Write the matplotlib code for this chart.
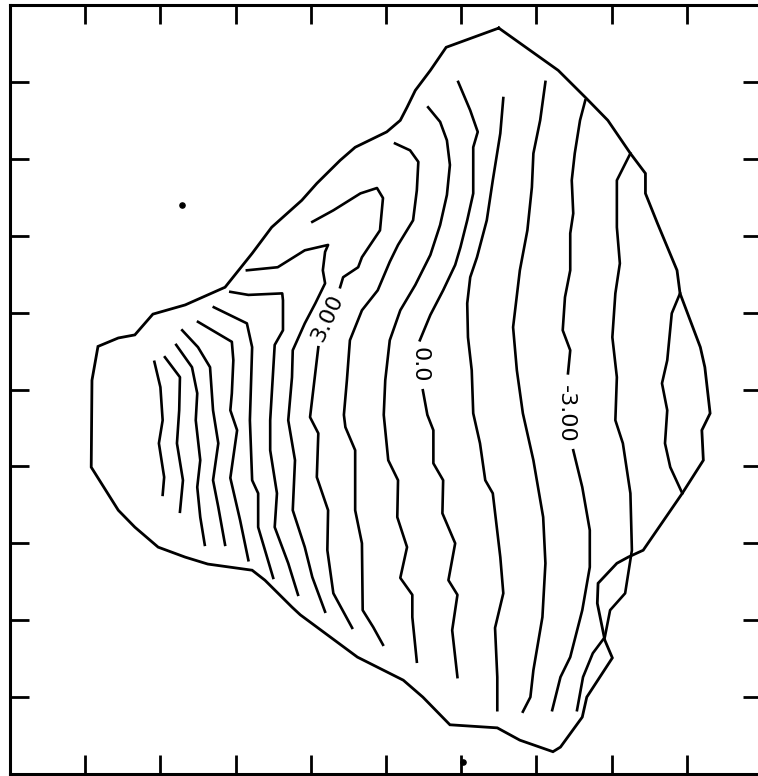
import numpy as np
import matplotlib
matplotlib.use("Agg")
import matplotlib.pyplot as plt

# ── Boundary of the mapped area (grid units, 0-10 on both axes) ──
edge_x = [6.50, 7.29, 7.66, 7.95, 8.25, 8.45, 8.45, 8.61, 8.87, 8.91, 9.18, 9.24,
          9.31, 9.20, 9.22, 8.94, 8.42, 8.22, 8.07, 7.82, 7.81, 7.91, 8.01, 7.67,
          7.61, 7.32, 7.22, 6.78, 6.48, 5.85, 5.49, 5.23, 4.62, 3.86, 3.75, 3.39,
          3.22, 2.63, 2.33, 1.97, 1.66, 1.44, 1.08, 1.09, 1.17, 1.44, 1.66, 1.90,
          2.33, 2.86, 3.22, 3.48, 3.88, 4.08, 4.39, 4.59, 5.01, 5.19, 5.28, 5.39,
          5.59, 5.80, 6.36, 6.50]
edge_y = [9.70, 9.15, 8.79, 8.50, 8.07, 7.81, 7.55, 7.16, 6.55, 6.25, 5.55, 5.29,
          4.69, 4.47, 4.08, 3.65, 2.91, 2.82, 2.74, 2.48, 2.22, 1.74, 1.51, 1.00,
          0.74, 0.35, 0.29, 0.44, 0.60, 0.64, 1.00, 1.22, 1.52, 2.07, 2.17, 2.52,
          2.65, 2.73, 2.82, 2.95, 3.21, 3.43, 3.99, 5.12, 5.56, 5.67, 5.71, 5.98,
          6.10, 6.33, 6.77, 7.11, 7.46, 7.68, 7.98, 8.15, 8.35, 8.50, 8.67, 8.89,
          9.15, 9.45, 9.65, 9.70]

# ── Contour lines, left to right (nan = gap for the level label) ──
line_01_x = [1.92, 2.00, 2.03, 1.98, 2.05, 2.03]
line_01_y = [5.36, 5.03, 4.60, 4.30, 3.86, 3.63]
line_02_x = [2.06, 2.26, 2.25, 2.22, 2.30, 2.26]
line_02_y = [5.42, 5.16, 4.73, 4.30, 3.82, 3.41]
line_03_x = [2.21, 2.42, 2.49, 2.47, 2.53, 2.49, 2.53, 2.59]
line_03_y = [5.58, 5.29, 4.95, 4.60, 4.08, 3.73, 3.34, 2.98]
line_04_x = [2.29, 2.50, 2.66, 2.70, 2.77, 2.70, 2.77, 2.86]
line_04_y = [5.77, 5.55, 5.29, 4.73, 4.30, 3.82, 3.47, 2.98]
line_05_x = [2.50, 2.95, 2.97, 2.95, 2.93, 3.02, 2.93, 3.06, 3.17]
line_05_y = [5.88, 5.62, 5.38, 4.95, 4.73, 4.47, 3.85, 3.30, 2.78]
line_06_x = [2.71, 3.15, 3.22, 3.19, 3.22, 3.30, 3.30, 3.50]
line_06_y = [6.07, 5.86, 5.55, 4.60, 3.82, 3.65, 3.21, 2.55]
line_07_x = [2.93, 3.17, 3.62, 3.63, 3.63, 3.52, 3.46, 3.46, 3.55, 3.52, 3.70, 3.83]
line_07_y = [6.27, 6.23, 6.25, 6.16, 5.77, 5.58, 4.60, 4.21, 3.65, 3.21, 2.74, 2.33]
line_08_x = [3.15, 3.56, 3.92, 4.23, 4.19, 4.16, 4.19, 4.06, 3.92, 3.76, 3.75, 3.70,
             3.79, 3.76, 3.92, 4.02, 4.19]
line_08_y = [6.55, 6.59, 6.81, 6.88, 6.79, 6.55, 6.38, 6.12, 5.86, 5.51, 5.16, 4.60,
             4.08, 3.43, 2.95, 2.56, 2.11]
line_09_x = [4.02, 4.30, 4.66, 4.88, 4.96, 4.92, 4.68, 4.63, 4.43, 4.39, np.nan,
             4.10, 3.99, 4.10, 4.08, 4.23, 4.22, 4.30, 4.55]
line_09_y = [7.18, 7.33, 7.55, 7.62, 7.49, 7.07, 6.72, 6.59, 6.46, 6.33, np.nan,
             5.55, 4.64, 4.43, 3.86, 3.43, 2.91, 2.35, 1.90]
line_10_x = [5.12, 5.32, 5.43, 5.41, 5.36, 5.16, 5.05, 4.89, 4.68, 4.52, 4.48, 4.44,
             4.46, 4.59, 4.59, 4.68, 4.69, 4.83, 4.96]
line_10_y = [8.20, 8.11, 7.96, 7.59, 7.20, 6.88, 6.66, 6.29, 6.03, 5.64, 5.12, 4.67,
             4.51, 4.21, 3.43, 3.00, 2.13, 1.91, 1.68]
line_11_x = [5.56, 5.72, 5.81, 5.85, 5.81, 5.72, 5.59, 5.39, 5.19, 5.05, 4.99, 4.97,
             5.03, 5.16, 5.15, 5.28, 5.19, 5.35, 5.35, 5.41]
line_11_y = [8.67, 8.48, 8.24, 7.92, 7.53, 7.14, 6.75, 6.36, 6.03, 5.64, 5.12, 4.67,
             4.08, 3.82, 3.34, 2.95, 2.55, 2.33, 2.04, 1.46]
line_12_x = [5.96, 6.12, 6.22, 6.16, 6.16, 6.16, 6.08, 5.99, 5.92, 5.76, 5.59, 5.45,
             np.nan, 5.49, 5.55, 5.63, 5.63, 5.76, 5.75, 5.92, 5.83, 5.95, 5.88, 5.95]
line_12_y = [9.00, 8.63, 8.35, 8.15, 7.85, 7.55, 7.20, 6.85, 6.62, 6.29, 5.97, 5.64,
             np.nan, 4.99, 4.67, 4.47, 4.04, 3.82, 3.39, 3.00, 2.52, 2.33, 1.87, 1.26]
line_13_x = [6.56, 6.52, 6.42, 6.34, 6.21, 6.12, 6.08, 6.09, 6.14, 6.16, 6.25, 6.32,
             6.42, 6.52, 6.56, 6.45, 6.48, 6.48]
line_13_y = [8.79, 8.33, 7.72, 7.20, 6.72, 6.46, 6.12, 5.68, 5.25, 4.69, 4.30, 3.82,
             3.65, 2.82, 2.35, 1.90, 1.26, 0.83]
line_14_x = [7.12, 7.05, 6.96, 6.94, 6.88, 6.78, 6.69, 6.74, 6.82, 6.96, 7.09, 7.12,
             7.08, 6.96, 6.92, 6.82]
line_14_y = [9.00, 8.50, 8.07, 7.63, 7.07, 6.55, 5.81, 5.25, 4.69, 4.08, 3.34, 2.74,
             2.04, 1.35, 1.00, 0.81]
line_15_x = [7.65, 7.58, 7.51, 7.47, 7.49, 7.45, 7.45, 7.38, 7.35, 7.45, 7.42, np.nan,
             7.49, 7.61, 7.71, 7.71, 7.61, 7.45, 7.32, 7.21]
line_15_y = [8.76, 8.50, 8.07, 7.72, 7.29, 7.03, 6.55, 6.20, 5.77, 5.51, 5.21, np.nan,
             4.21, 3.73, 3.17, 2.69, 2.13, 1.52, 1.26, 0.83]
line_16_x = [8.25, 8.07, 8.07, 8.11, 8.05, 8.01, 8.07, 8.05, 8.15, 8.25, 8.27, 8.18,
             7.98, 7.91, 7.75, 7.62, 7.54]
line_16_y = [8.07, 7.72, 7.11, 6.64, 6.25, 5.68, 5.16, 4.60, 4.30, 3.65, 2.91, 2.35,
             2.13, 1.78, 1.57, 1.26, 0.83]
line_17_x = [8.91, 8.80, 8.74, 8.67, 8.74, 8.71, 8.78, 8.94]
line_17_y = [6.25, 5.99, 5.38, 5.08, 4.73, 4.30, 3.99, 3.65]

# ── Level labels: text, position, angle ──
label_text = ["3.00", "0.0", "-3.00"]
label_x = [4.22, 5.44, 7.39]
label_y = [5.93, 5.32, 4.68]
label_rot = [65, -90, -90]

# stray specks on the scanned sheet
speck_x = [2.29, 6.02]
speck_y = [7.40, 0.16]

contours = [
    (line_01_x, line_01_y), (line_02_x, line_02_y), (line_03_x, line_03_y),
    (line_04_x, line_04_y), (line_05_x, line_05_y), (line_06_x, line_06_y),
    (line_07_x, line_07_y), (line_08_x, line_08_y), (line_09_x, line_09_y),
    (line_10_x, line_10_y), (line_11_x, line_11_y), (line_12_x, line_12_y),
    (line_13_x, line_13_y), (line_14_x, line_14_y), (line_15_x, line_15_y),
    (line_16_x, line_16_y), (line_17_x, line_17_y),
]

fig = plt.figure(figsize=(7.58, 7.76), dpi=100)
# frame runs a little past the right edge of the picture, as in the scan
ax = fig.add_axes([10 / 758, 2 / 776, 752 / 758, 769 / 776])
ax.set_xlim(0, 10)
ax.set_ylim(0, 10)

ax.plot(edge_x, edge_y, color="black", lw=2.0, solid_joinstyle="miter")
for cx, cy in contours:
    ax.plot(cx, cy, color="black", lw=1.9)

for txt, tx, ty, rot in zip(label_text, label_x, label_y, label_rot):
    ax.text(tx, ty, txt, fontsize=16, rotation=rot, ha="center", va="center",
            rotation_mode="anchor", family="DejaVu Sans")

ax.scatter(speck_x, speck_y, s=14, color="black", clip_on=False)

ax.set_xticks(np.arange(1, 10))
ax.set_yticks(np.arange(1, 10))
ax.tick_params(direction="in", length=14, width=2, top=True, right=True,
               labelbottom=False, labelleft=False)
for side in ax.spines.values():
    side.set_linewidth(2.2)
ax.spines["right"].set_visible(False)

fig.savefig("out.png", dpi=100)
